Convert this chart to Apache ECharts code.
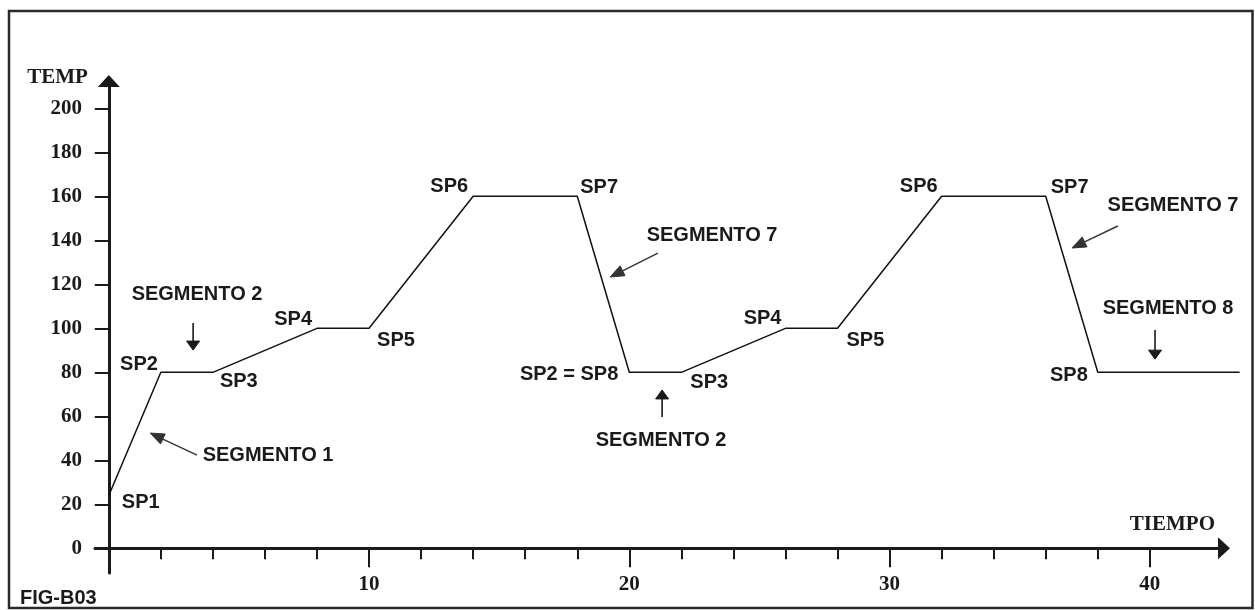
<!DOCTYPE html>
<html>
<head>
<meta charset="utf-8">
<script src="https://cdn.jsdelivr.net/npm/echarts@6/dist/echarts.min.js"></script>
<style>
html,body{margin:0;padding:0;background:#ffffff;}
#c{width:1255px;height:610px;}
</style>
</head>
<body>
<div id="c"></div>
<script>
// ---------- data ----------
const timeValues = [0, 2, 4, 8, 10, 14, 18, 20, 22, 26, 28, 32, 36, 38, 43.45];
const tempValues = [24, 80, 80, 100, 100, 160, 160, 80, 80, 100, 100, 160, 160, 80, 80];
const pointNames = ['SP1', 'SP2', 'SP3', 'SP4', 'SP5', 'SP6', 'SP7', 'SP2 = SP8', 'SP3', 'SP4', 'SP5', 'SP6', 'SP7', 'SP8', ''];
const yTickLabels = [0, 20, 40, 60, 80, 100, 120, 140, 160, 180, 200];
const yTicks = [20, 40, 60, 80, 100, 120, 140, 160, 180, 200];
const xTickLabels = [10, 20, 30, 40];
const xMinorTicks = [2, 4, 6, 8, 12, 14, 16, 18, 22, 24, 26, 28, 32, 34, 36, 38];
const yAxisName = 'TEMP';
const xAxisName = 'TIEMPO';
const figureTag = 'FIG-B03';

// segment annotations: text and where they sit (in data units)
const segmentNames = ['SEGMENTO 1', 'SEGMENTO 2', 'SEGMENTO 7', 'SEGMENTO 2', 'SEGMENTO 7', 'SEGMENTO 8'];
const segmentTextAt = [[6.12, 42.0], [3.39, 115.6], [23.18, 142.4], [21.22, 49.2], [40.89, 155.6], [40.70, 108.8]];
const segmentArrowFrom = [[3.39, 42.4], [3.24, 102.4], [21.10, 134.2], [21.26, 59.7], [38.77, 146.5], [40.20, 99.2]];
const segmentArrowTo = [[1.59, 52.4], [3.24, 90.1], [19.26, 123.3], [21.26, 72.0], [37.01, 136.5], [40.20, 86.0]];

// ---------- layout / style (kept apart from data) ----------
// label placement around each set point: [align, dx, dy]
const pointLabelLayout = [
  ['left', 13, 6.5], ['right', -3, -8], ['left', 7, 9], ['right', -5, -9], ['left', 8, 12],
  ['right', -5, -10], ['left', 3, -9], ['right', -11, 2], ['left', 9, 10], ['right', -4, -10],
  ['left', 9, 12], ['right', -4, -10], ['left', 5, -9], ['right', -10, 3], ['left', 0, 0]
];
const SANS = '"Liberation Sans", Arial, sans-serif';
const SERIF = '"Liberation Serif", "Times New Roman", serif';
const INK = '#1a1a1a';
// axis grid spans x 95..1224 px; the plotting grid uses the same scale but runs on to 1240 px
const X_MIN = -0.53, X_MAX = 42.85;
const PX_PER_UNIT = (1224 - 95) / (X_MAX - X_MIN);
const X_MAX_PLOT = X_MIN + (1240 - 95) / PX_PER_UNIT;
const Y_MIN = -11.2, Y_MAX = 212.4;

const chart = echarts.init(document.getElementById('c'), null, {renderer: 'canvas'});

const serifText = {fontFamily: SERIF, fontWeight: 'bold', fontSize: 21, color: INK};
const hiddenAxis = {show: false, axisLine: {show: false}, axisTick: {show: false}, axisLabel: {show: false}, splitLine: {show: false}};

const option = {
  animation: false,
  backgroundColor: '#ffffff',
  grid: [
    {left: 95, right: 31, top: 81, bottom: 37, containLabel: false, outerBoundsMode: 'none'},
    {left: 95, right: 15, top: 81, bottom: 37, containLabel: false, outerBoundsMode: 'none'}
  ],
  xAxis: [
    {
      type: 'value', gridIndex: 0, position: 'bottom', min: X_MIN, max: X_MAX,
      axisLine: {show: true, onZero: true, onZeroAxisIndex: 0, symbol: ['none', 'triangle'], symbolSize: [22, 12],
        lineStyle: {color: INK, width: 3}},
      axisTick: {show: true, customValues: xMinorTicks, length: 11, lineStyle: {color: INK, width: 2}},
      axisLabel: {show: false},
      splitLine: {show: false}
    },
    {
      type: 'value', gridIndex: 0, position: 'bottom', min: X_MIN, max: X_MAX,
      axisLine: {show: false, onZero: true, onZeroAxisIndex: 0},
      axisTick: {show: true, customValues: xTickLabels, length: 19, lineStyle: {color: INK, width: 2}},
      axisLabel: Object.assign({show: true, customValues: xTickLabels, margin: 12, verticalAlign: 'middle'}, serifText),
      splitLine: {show: false}
    },
    Object.assign({type: 'value', gridIndex: 1, min: X_MIN, max: X_MAX_PLOT}, hiddenAxis)
  ],
  yAxis: [
    {
      type: 'value', gridIndex: 0, min: Y_MIN, max: Y_MAX,
      axisLine: {show: true, onZero: true, onZeroAxisIndex: 0, symbol: ['none', 'triangle'], symbolSize: [22, 12],
        lineStyle: {color: INK, width: 3}},
      axisTick: {show: true, customValues: yTicks, length: 14, lineStyle: {color: INK, width: 2}},
      axisLabel: Object.assign({show: true, customValues: yTickLabels, margin: 13}, serifText),
      splitLine: {show: false},
      name: yAxisName, nameLocation: 'end', nameGap: 3, nameMoveOverlap: false,
      nameTextStyle: Object.assign({}, serifText, {align: 'right', verticalAlign: 'middle', padding: [0, 21, 0, 0]})
    },
    Object.assign({type: 'value', gridIndex: 1, min: Y_MIN, max: Y_MAX}, hiddenAxis)
  ],
  series: [{
    type: 'line',
    xAxisIndex: 2, yAxisIndex: 1,
    data: timeValues.map((t, i) => [t, tempValues[i]]),
    symbol: 'none', showSymbol: false, clip: false,
    lineStyle: {color: '#111111', width: 1.5},
    z: 3
  }]
};
chart.setOption(option);

// ---------- annotations placed through the chart's own scales ----------
function px(p) { return chart.convertToPixel({gridIndex: 0}, p); }
function sansText(x, y, text, align) {
  return {type: 'text', x: x, y: y, silent: true, z: 10,
    style: {text: text, fill: INK, font: 'bold 20px ' + SANS, align: align || 'center', verticalAlign: 'middle'}};
}
function arrow(p0, p1, headLen, halfW, width, color) {
  const dx = p1[0] - p0[0], dy = p1[1] - p0[1];
  const len = Math.sqrt(dx * dx + dy * dy);
  const ux = dx / len, uy = dy / len;
  const bx = p1[0] - ux * headLen, by = p1[1] - uy * headLen;
  const nx = -uy, ny = ux;
  return [
    {type: 'line', silent: true, z: 10, shape: {x1: p0[0], y1: p0[1], x2: bx, y2: by},
      style: {stroke: color, lineWidth: width}},
    {type: 'polygon', silent: true, z: 10,
      shape: {points: [[p1[0], p1[1]], [bx + nx * halfW, by + ny * halfW], [bx - nx * halfW, by - ny * halfW]]},
      style: {fill: color, stroke: color, lineWidth: 1}}
  ];
}

const elements = [];
// frame
elements.push({type: 'rect', silent: true, z: 1, shape: {x: 9, y: 11, width: 1243.5, height: 597},
  style: {fill: 'none', stroke: '#2a2a2a', lineWidth: 2.5}});

// x axis title, anchored at the end of the time axis
const axisEnd = px([X_MAX, 0]);
elements.push({type: 'text', x: axisEnd[0] - 9, y: axisEnd[1] - 24, silent: true, z: 10,
  style: {text: xAxisName, fill: INK, font: 'bold 21px ' + SERIF, align: 'right', verticalAlign: 'middle'}});

pointNames.forEach((name, i) => {
  if (!name) return;
  const p = px([timeValues[i], tempValues[i]]);
  const lay = pointLabelLayout[i];
  elements.push(sansText(p[0] + lay[1], p[1] + lay[2], name, lay[0]));
});

segmentNames.forEach((name, i) => {
  const t = px(segmentTextAt[i]);
  elements.push(sansText(t[0], t[1], name, 'center'));
  const a = px(segmentArrowFrom[i]);
  const b = px(segmentArrowTo[i]);
  const vertical = Math.abs(a[0] - b[0]) < 1;
  if (vertical) {
    arrow(a, b, 9, 6.5, 1.6, INK).forEach(e => elements.push(e));
  } else {
    arrow(a, b, 14, 5.5, 1.4, '#333333').forEach(e => elements.push(e));
  }
});

elements.push(sansText(20, 598, figureTag, 'left'));

chart.setOption({graphic: {elements: elements}});
</script>
</body>
</html>
